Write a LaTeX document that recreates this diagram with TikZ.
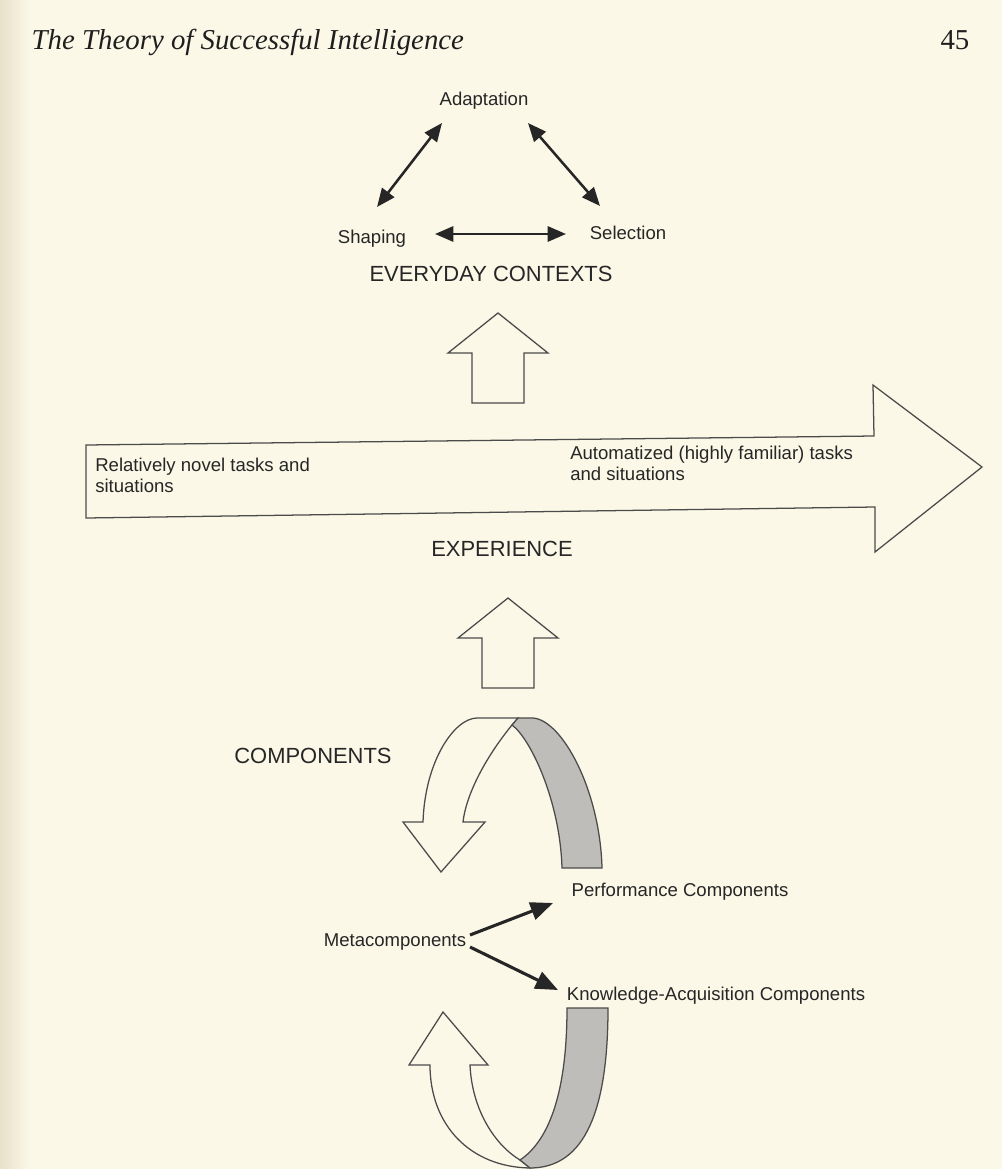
\documentclass[tikz,border=0pt]{standalone}
\usepackage{fontspec}
\setmainfont{Liberation Sans}
\newfontfamily\runningfont{Liberation Serif}
\usetikzlibrary{arrows.meta, calc}
\definecolor{pagecream}{RGB}{251,248,231}
\definecolor{bindingtone}{RGB}{232,224,202}
\definecolor{inkgray}{RGB}{38,38,38}
\definecolor{linegray}{RGB}{75,75,75}
\definecolor{bandgray}{RGB}{190,189,185}
\tikzset{
>={Triangle[length=0.46cm,width=0.38cm]}, % solid heads as in the print
every node/.style={inner sep=1pt, text=inkgray},
smalltext/.style={font=\fontsize{13.2}{14.5}\selectfont},
bigtext/.style={font=\fontsize{15.6}{18}\selectfont},
twoway/.style={<->, line width=1.8pt, draw=inkgray},
oneway/.style={->, line width=2.2pt, draw=inkgray, >={Triangle[length=0.56cm,width=0.45cm]}},
outline/.style={draw=linegray, line width=0.9pt, fill=pagecream, line join=miter},
band/.style={draw=linegray, line width=0.9pt, fill=bandgray},
upblock/.pic={\path[outline] (-26,0) -- (-26,-50) -- (-50,-50) -- (0,-90) -- (50,-50) -- (26,-50) -- (26,0) -- cycle;},
}

\begin{document}
\begin{tikzpicture}[x=0.025cm, y=-0.025cm]% one unit = one pixel of the scan
  \useasboundingbox (0,0) rectangle (1002,1169);
  \fill[pagecream] (0,0) rectangle (1002,1169);
  \shade[left color=bindingtone, right color=pagecream] (0,0) rectangle (30,1169);

  % running head
  \node[anchor=base west, text=black!88, font=\runningfont\itshape\fontsize{20.5}{24}\selectfont] (runhead) at (30,50) {The Theory of Successful Intelligence};
  \node[anchor=base east, text=black!88, font=\runningfont\fontsize{20.5}{24}\selectfont] (pageno) at (971,50) {45};

  % everyday contexts triangle
  \node[smalltext, anchor=base] (adapt) at (484,106) {Adaptation};
  \node[smalltext, anchor=base] (shape) at (372,243) {Shaping};
  \node[smalltext, anchor=base] (select) at (628,239) {Selection};
  \node[bigtext, anchor=base] (contexts) at (491,281) {EVERYDAY CONTEXTS};

  \draw[twoway] ($(shape.base)+(5,-36)$) -- ($(adapt.base)+(-42,17)$);
  \draw[twoway] ($(adapt.base)+(44,17)$) -- ($(select.base)+(-28,-33)$);
  \draw[twoway] ($(shape.base)+(63,-9)$) -- ($(select.base)+(-62,-5)$);

  \pic at (498,403) {upblock};

  % experience arrow
  \draw[outline] (86,445) -- (874,436) -- (873,385) -- (982,467) -- (875,552) -- (875,507) -- (86,518) -- cycle;
  \node[smalltext, anchor=north west, align=left, inner sep=0pt] (novel) at (95,458) {Relatively novel tasks and\\situations};
  \node[smalltext, anchor=north west, align=left, inner sep=0pt] (automated) at (570,446) {Automatized (highly familiar) tasks\\and situations};
  \node[bigtext, anchor=base] (experience) at (502,556) {EXPERIENCE};

  \pic at (508,688) {upblock};

  % components: upper loop
  \node[bigtext, anchor=base] (components) at (313,763) {COMPONENTS};
  \draw[outline] (518,718) -- (477,718) .. controls (455,718) and (425,760) .. (423,822)
    -- (403,822) -- (441,872) -- (485,822) -- (463,822)
    .. controls (466,795) and (485,758) .. (512,725) -- cycle;
  \draw[band] (518,718) -- (533,718) .. controls (562,720) and (600,790) .. (602,868)
    -- (562,868) .. controls (560,800) and (530,738) .. (512,725) -- cycle;

  \node[smalltext, anchor=base] (perf) at (680,896) {Performance Components};
  \node[smalltext, anchor=base] (meta) at (395,946) {Metacomponents};
  \node[smalltext, anchor=base] (knowacq) at (716,1000) {Knowledge-Acquisition Components};

  \draw[oneway] ($(meta.base)+(75,-11)$) -- ($(perf.base)+(-127,7)$);
  \draw[oneway] ($(meta.base)+(75,1)$) -- ($(knowacq.base)+(-158,-10)$);

  % components: lower loop
  \draw[outline] (530,1168) .. controls (470,1167) and (430,1125) .. (430,1065)
    -- (409,1065) -- (443,1012) -- (488,1065) -- (470,1065)
    .. controls (472,1110) and (495,1145) .. (520,1160) -- cycle;
  \draw[band] (567,1008) -- (608,1008) .. controls (608,1110) and (585,1168) .. (530,1168)
    -- (520,1160) .. controls (550,1140) and (567,1090) .. (567,1008) -- cycle;
\end{tikzpicture}
\end{document}
